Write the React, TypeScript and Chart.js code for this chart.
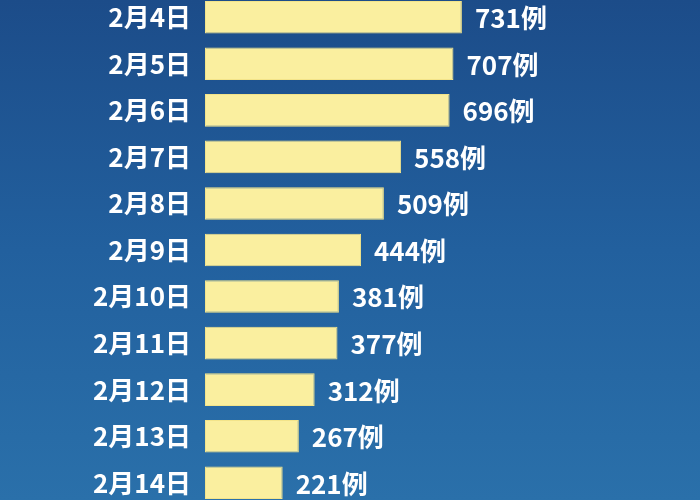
import { useEffect, useRef } from 'react';
import { Chart, registerables } from 'chart.js';

Chart.register(...registerables);

const dates = ['2月4日', '2月5日', '2月6日', '2月7日', '2月8日', '2月9日', '2月10日', '2月11日', '2月12日', '2月13日', '2月14日'];
const cases = [731, 707, 696, 558, 509, 444, 381, 377, 312, 267, 221];
const unit = '例';

const FONT = "'Noto Sans CJK SC', 'Noto Sans', sans-serif";

// подписи значений справа от столбцов
const valueLabels = {
  id: 'valueLabels',
  afterDatasetsDraw(chart: Chart) {
    const ctx = chart.ctx;
    const meta = chart.getDatasetMeta(0);
    ctx.save();
    ctx.font = `bold 26px ${FONT}`;
    ctx.fillStyle = '#ffffff';
    ctx.textAlign = 'left';
    ctx.textBaseline = 'middle';
    meta.data.forEach((bar: any, i: number) => {
      ctx.fillText(cases[i] + unit, bar.x + 13, bar.y + 1);
    });
    ctx.restore();
  },
};

const App = () => {
  const canvasRef = useRef<HTMLCanvasElement>(null);

  useEffect(() => {
    if (!canvasRef.current) return;
    const chart = new Chart(canvasRef.current, {
      type: 'bar',
      data: {
        labels: dates,
        datasets: [
          {
            data: cases,
            backgroundColor: '#faef9f',
            borderColor: '#f3e48a',
            borderWidth: 1,
            borderSkipped: false,
            categoryPercentage: 1,
            barPercentage: 0.7,
          },
        ],
      },
      options: {
        indexAxis: 'y',
        responsive: false,
        animation: false,
        layout: { padding: { top: 0, bottom: 0, left: 0, right: 3 } },
        plugins: {
          legend: { display: false },
          tooltip: { enabled: false },
        },
        scales: {
          x: {
            display: false,
            min: 0,
            max: 1400,
          },
          y: {
            border: { display: false },
            grid: { display: false, drawTicks: false },
            ticks: {
              color: '#ffffff',
              padding: 14,
              font: { family: FONT, size: 26, weight: 'bold' },
            },
            afterFit(scale: any) {
              scale.width = 205;
              // без лишних отступов сверху/снизу — строки на всю высоту
              scale.paddingTop = 0;
              scale.paddingBottom = 0;
            },
          },
        },
      },
      plugins: [valueLabels],
    });
    return () => chart.destroy();
  }, []);

  return (
    <div
      style={{
        position: 'fixed',
        left: 0,
        top: 0,
        width: 700,
        height: 500,
        overflow: 'hidden',
        background: 'linear-gradient(to bottom, #1c4c89 0%, #22609e 50%, #2a70aa 100%)',
      }}
    >
      <canvas
        ref={canvasRef}
        width={700}
        height={512}
        style={{ position: 'absolute', left: 0, top: -6 }}
      />
    </div>
  );
};

export default App;
